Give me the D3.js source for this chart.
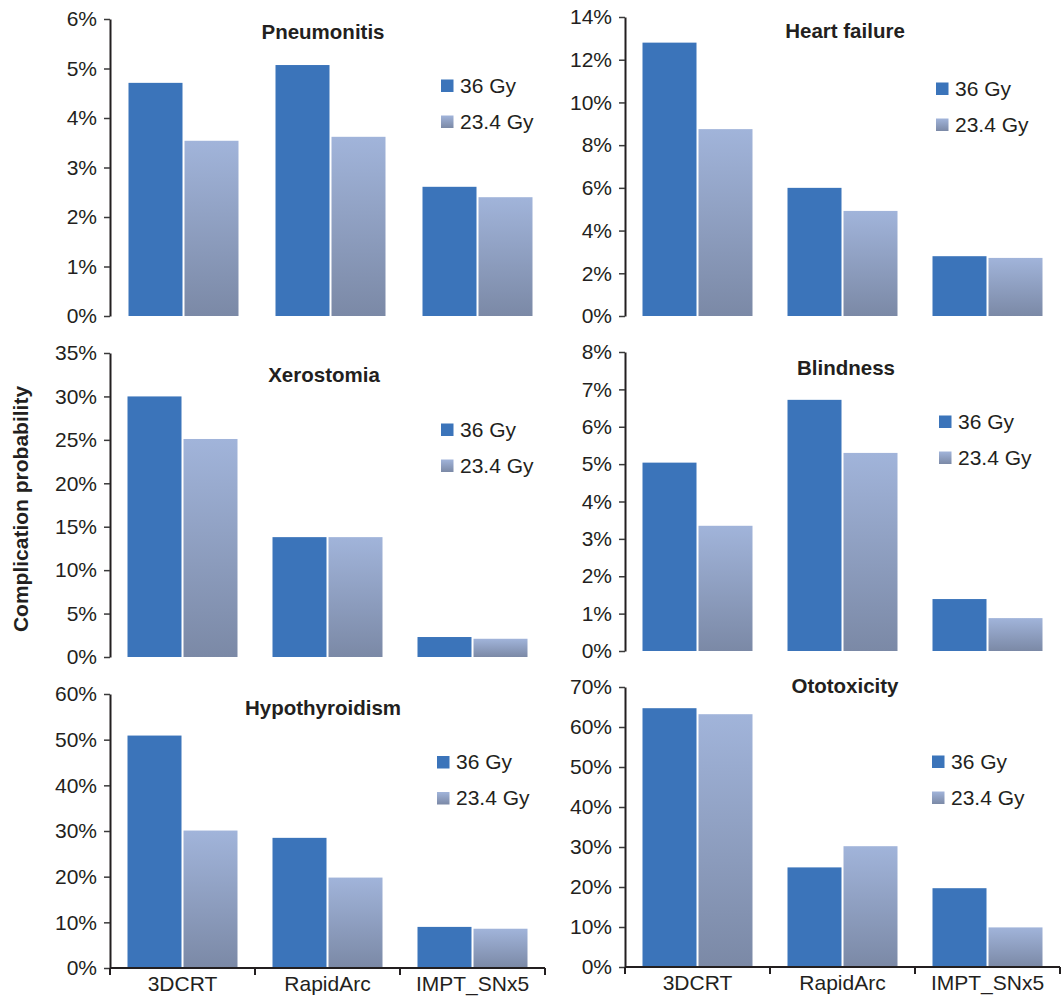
<!DOCTYPE html>
<html>
<head>
<meta charset="utf-8">
<script src="https://cdn.jsdelivr.net/npm/d3@7"></script>
<style>
  html, body { margin: 0; padding: 0; background: #ffffff; }
  svg { display: block; }
  text { font-family: "Liberation Sans", Arial, sans-serif; fill: #231f20; }
</style>
</head>
<body>
<svg id="chart" width="1061" height="997"></svg>
<script>
// ---- data -------------------------------------------------------------
const categories = ["3DCRT", "RapidArc", "IMPT_SNx5"];
const seriesNames = ["36 Gy", "23.4 Gy"];
const panelTitles = ["Pneumonitis", "Heart failure", "Xerostomia", "Blindness", "Hypothyroidism", "Ototoxicity"];
const yMaxima = [6, 14, 35, 8, 60, 70];          // axis maximum, percent
const yTickSteps = [1, 2, 5, 1, 10, 10];         // tick spacing, percent
// complication probability (%) per category, one row per panel
const values36Gy = [
  [4.71, 5.07, 2.61],
  [12.8, 6.0, 2.8],
  [30.0, 13.8, 2.3],
  [5.04, 6.72, 1.39],
  [50.9, 28.5, 9.0],
  [64.7, 24.9, 19.7]
];
const values23Gy = [
  [3.54, 3.62, 2.40],
  [8.75, 4.92, 2.72],
  [25.1, 13.8, 2.1],
  [3.35, 5.30, 0.88],
  [30.1, 19.8, 8.6],
  [63.2, 30.2, 9.9]
];
const yAxisTitle = "Complication probability";

// ---- layout -----------------------------------------------------------
const colX = [110, 625];
const plotWidths = [441, 435, 435, 435, 435, 435];
const plotFrames = [        // [top, bottom] of each plot area
  [19, 316], [17, 316],
  [353, 657], [352, 651],
  [694, 968], [687, 967]
];
const legendPos = [[441, 79.5], [936, 82.5], [441, 423.5], [939, 415.5], [437, 756], [932, 755.5]];
const titlePos = [[323, 39], [845, 38], [324, 382], [846, 375], [323, 715], [845, 693]];
const barWidth = 54, barGap = 2;

const blue = "#3b74ba";
const svg = d3.select("#chart");

// vertical gradient used for the 23.4 Gy bars and legend swatches
const defs = svg.append("defs");
const grad = defs.append("linearGradient")
  .attr("id", "grad234").attr("x1", 0).attr("y1", 0).attr("x2", 0).attr("y2", 1);
grad.append("stop").attr("offset", "0%").attr("stop-color", "#a1b4da");
grad.append("stop").attr("offset", "100%").attr("stop-color", "#7b89a6");
const fills = [blue, "url(#grad234)"];

const fmtPct = d => d + "%";

panelTitles.forEach((title, i) => {
  const col = i % 2;
  const row = Math.floor(i / 2);
  const x0 = colX[col];
  const w = plotWidths[i];
  const [top, bottom] = plotFrames[i];
  const g = svg.append("g");

  const x = d3.scaleBand().domain(categories).range([x0, x0 + w]).padding(0);
  const groupW = 2 * barWidth + barGap;
  const off = (x.step() - groupW) / 2;
  const xs = d3.scaleBand().domain(seriesNames).range([off, off + groupW])
    .paddingInner(barGap / (barWidth + barGap));
  const y = d3.scaleLinear().domain([0, yMaxima[i]]).range([bottom, top]);

  // bars
  const rows = categories.map((c, k) => ({ cat: c, vals: [values36Gy[i][k], values23Gy[i][k]] }));
  const groups = g.selectAll("g.cat").data(rows).enter().append("g")
    .attr("transform", d => `translate(${x(d.cat)},0)`);
  groups.selectAll("rect").data(d => d.vals.map((v, s) => ({ v, s })))
    .enter().append("rect")
    .attr("x", d => xs(seriesNames[d.s]))
    .attr("width", xs.bandwidth())
    .attr("y", d => y(d.v))
    .attr("height", d => bottom - y(d.v))
    .attr("fill", d => fills[d.s]);

  // y axis
  const ticks = d3.range(0, yMaxima[i] + yTickSteps[i] / 2, yTickSteps[i]);
  const yAxis = d3.axisLeft(y).tickValues(ticks).tickFormat(fmtPct).tickSizeInner(6).tickSizeOuter(0).tickPadding(7);
  const ay = g.append("g").attr("transform", `translate(${x0},0)`).call(yAxis);
  ay.select(".domain").attr("stroke", "#231f20").attr("stroke-width", 2);
  ay.selectAll(".tick line").attr("stroke", "#3a3a3a").attr("stroke-width", 1.5);
  ay.selectAll(".tick text").attr("font-size", 21).attr("fill", "#231f20")
    .style("font-family", "'Liberation Sans', Arial, sans-serif");

  // category axis on the bottom row
  if (row === 2) {
    const xAxisG = g.append("g").attr("transform", `translate(0,${bottom})`);
    xAxisG.append("line")
      .attr("x1", x0).attr("x2", x0 + w)
      .attr("stroke", "#231f20").attr("stroke-width", 2);
    const bounds = categories.map(c => x(c)).concat([x0 + w]);
    xAxisG.selectAll("line.sep").data(bounds).enter().append("line")
      .attr("class", "sep")
      .attr("x1", d => d).attr("x2", d => d).attr("y1", 0).attr("y2", 7)
      .attr("stroke", "#231f20").attr("stroke-width", 2);
    xAxisG.selectAll("text").data(categories).enter().append("text")
      .attr("x", d => x(d) + x.bandwidth() / 2)
      .attr("y", 23)
      .attr("text-anchor", "middle")
      .attr("font-size", 21)
      .text(d => d);
  }

  // panel title
  g.append("text")
    .attr("x", titlePos[i][0]).attr("y", titlePos[i][1])
    .attr("text-anchor", "middle")
    .attr("font-size", 20.5).attr("font-weight", "bold")
    .text(title);

  // legend
  const [lx, ly] = legendPos[i];
  const lg = g.append("g").attr("transform", `translate(${lx},${ly})`);
  seriesNames.forEach((name, s) => {
    lg.append("rect").attr("x", 0).attr("y", s * 36).attr("width", 12.5).attr("height", 12.5)
      .attr("fill", fills[s]);
    lg.append("text").attr("x", 19).attr("y", s * 36 + 13).attr("font-size", 21).text(name);
  });
});

// shared y-axis title
svg.append("text")
  .attr("transform", "translate(28,509) rotate(-90)")
  .attr("text-anchor", "middle")
  .attr("font-size", 21).attr("font-weight", "bold")
  .text(yAxisTitle);
</script>
</body>
</html>
